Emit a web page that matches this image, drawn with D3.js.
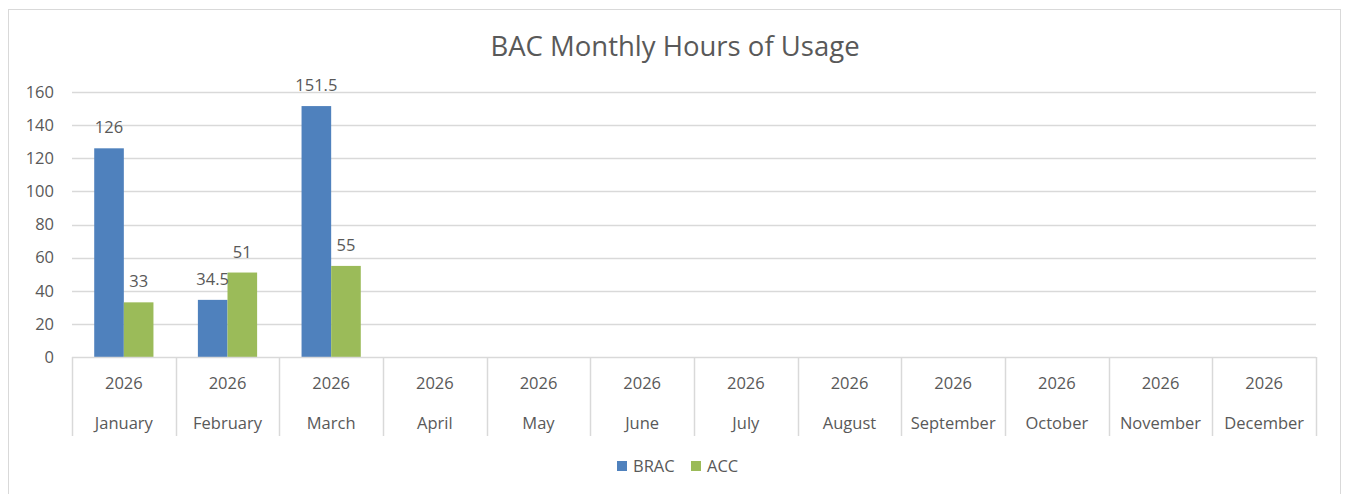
<!DOCTYPE html>
<html><head><meta charset="utf-8">
<script src="https://cdn.jsdelivr.net/npm/d3@7"></script>
<style>html,body{margin:0;padding:0;background:#fff;}svg{display:block;}</style>
</head><body>
<svg id="chart" width="1347" height="494"></svg>
<script>
const months = ["January","February","March","April","May","June","July","August","September","October","November","December"];
const years = ["2026","2026","2026","2026","2026","2026","2026","2026","2026","2026","2026","2026"];
const seriesNames = ["BRAC","ACC"];
const bracValues = [126, 34.5, 151.5, null, null, null, null, null, null, null, null, null];
const accValues = [33, 51, 55, null, null, null, null, null, null, null, null, null];
const yTicks = [0,20,40,60,80,100,120,140,160];
const colors = ["#4f81bd","#9bbb59"];
const title = "BAC Monthly Hours of Usage";

const svg = d3.select("#chart");
const font = "'Open Sans', sans-serif";
const textColor = "#595959";
const gridColor = "#d9d9d9";
const fs = 16.5;

svg.append("rect").attr("x",8.5).attr("y",9.5).attr("width",1332).attr("height",500)
  .attr("fill","#fff").attr("stroke",gridColor).attr("stroke-width",1);

const pLeft = 72, pRight = 1316, pTop = 92, pBottom = 357;
const x = d3.scaleBand().domain(months.map((m,i)=>i)).range([pLeft,pRight]).paddingInner(0).paddingOuter(0);
const bw = x.bandwidth()/3.5;
const xs = d3.scaleBand().domain(seriesNames).range([bw*0.75, x.bandwidth()-bw*0.75]).padding(0);
const y = d3.scaleLinear().domain([0,160]).range([pBottom,pTop]);

svg.append("text").attr("x",675).attr("y",56).attr("text-anchor","middle")
  .attr("font-family",font).attr("font-size",27.5).attr("fill",textColor).text(title);

// gridlines
svg.append("g").selectAll("line").data(yTicks.filter(d=>d>0)).join("line")
  .attr("x1",pLeft).attr("x2",pRight).attr("y1",d=>Math.round(y(d))+0.5).attr("y2",d=>Math.round(y(d))+0.5)
  .attr("stroke",gridColor).attr("stroke-width",1.5);

// y axis labels
const yAxis = d3.axisLeft(y).tickValues(yTicks).tickSize(0).tickPadding(0);
const yg = svg.append("g").attr("transform",`translate(${pLeft-18},0)`).call(yAxis);
yg.select(".domain").remove();
yg.selectAll("text").attr("font-family",font).attr("font-size",fs).attr("fill",textColor);

// bars
const data = months.map((m,i)=>({i, vals:[bracValues[i], accValues[i]]}));
const groups = svg.append("g").selectAll("g").data(data).join("g")
  .attr("transform",d=>`translate(${x(d.i)},0)`);
groups.selectAll("rect").data(d=>d.vals.map((v,k)=>({v,k})).filter(e=>e.v!=null)).join("rect")
  .attr("x",e=>xs(seriesNames[e.k])).attr("width",xs.bandwidth())
  .attr("y",e=>y(e.v)).attr("height",e=>pBottom-y(e.v)).attr("fill",e=>colors[e.k]);
groups.selectAll("text").data(d=>d.vals.map((v,k)=>({v,k})).filter(e=>e.v!=null)).join("text")
  .attr("x",e=>xs(seriesNames[e.k])+xs.bandwidth()/2).attr("y",e=>y(e.v)-15)
  .attr("text-anchor","middle").attr("font-family",font).attr("font-size",fs).attr("fill",textColor)
  .text(e=>e.v);

// x axis line and separators
svg.append("line").attr("x1",pLeft).attr("x2",pRight).attr("y1",pBottom+0.5).attr("y2",pBottom+0.5)
  .attr("stroke",gridColor).attr("stroke-width",1.5);
const seps = months.map((m,i)=>x(i)).concat([pRight]);
svg.append("g").selectAll("line").data(seps).join("line")
  .attr("x1",d=>Math.round(d)+0.5).attr("x2",d=>Math.round(d)+0.5).attr("y1",pBottom).attr("y2",436)
  .attr("stroke",gridColor).attr("stroke-width",1.5);
const xl = svg.append("g");
xl.selectAll("text.yr").data(months.map((m,i)=>i)).join("text").attr("class","yr")
  .attr("x",i=>x(i)+x.bandwidth()/2).attr("y",389).attr("text-anchor","middle")
  .attr("font-family",font).attr("font-size",fs).attr("fill",textColor).text(i=>years[i]);
xl.selectAll("text.mo").data(months.map((m,i)=>i)).join("text").attr("class","mo")
  .attr("x",i=>x(i)+x.bandwidth()/2).attr("y",429).attr("text-anchor","middle")
  .attr("font-family",font).attr("font-size",fs).attr("fill",textColor).text(i=>months[i]);

// legend
const legend = svg.append("g");
const lx = [617, 691];
seriesNames.forEach((s,k)=>{
  legend.append("rect").attr("x",lx[k]).attr("y",461).attr("width",10).attr("height",10).attr("fill",colors[k]);
  legend.append("text").attr("x",lx[k]+16).attr("y",472).attr("font-family",font).attr("font-size",fs)
    .attr("fill",textColor).text(s);
});
</script>
</body></html>
